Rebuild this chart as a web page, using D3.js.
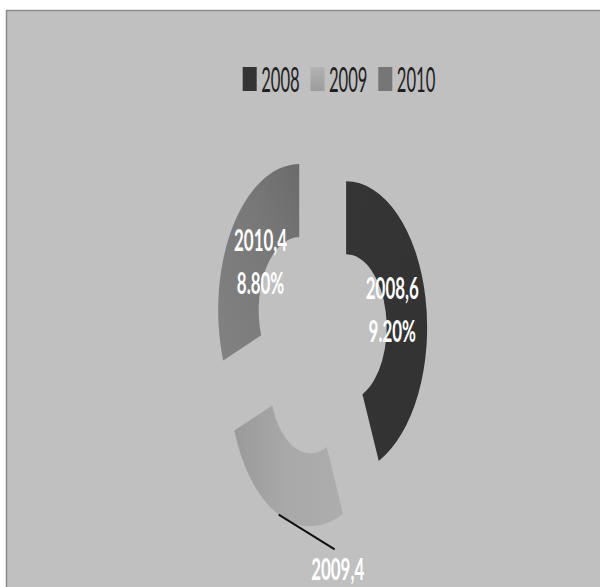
<!DOCTYPE html>
<html>
<head>
<meta charset="utf-8">
<script src="https://cdn.jsdelivr.net/npm/d3@7"></script>
<style>
  html, body { margin: 0; padding: 0; background: #ffffff; }
  svg { display: block; }
</style>
</head>
<body>
<svg id="chart" width="600" height="587"></svg>
<script>
// ---- data ----
const categories = ["2008", "2009", "2010"];
// share of the ring taken by each slice
const sliceValues = [43.4, 26.0, 30.6];
// data label texts as printed on the chart
const labelNames = ["2008,6", "2009,4", "2010,4"];
const labelPercents = ["9.20%", "", "8.80%"];
const labelOutside = [false, true, false];

// ---- layout / style ----
const W = 600, H = 587;
const sx = 0.555;            // horizontal squash of the picture
const cx = 320.6, cy = 337;  // ring centre
const outerR = 146, innerR = 73;
const explodeDist = 47;
const colors = ["url(#g2008)", "url(#g2009)", "url(#g2010)"];
const swatchColors = ["#343434", "url(#s2009)", "#767676"];

const svg = d3.select("#chart");

// gradients
const defs = svg.append("defs");
function lin(id, x1, y1, x2, y2, stops) {
  const g = defs.append("linearGradient").attr("id", id)
    .attr("x1", x1).attr("y1", y1).attr("x2", x2).attr("y2", y2);
  stops.forEach(s => g.append("stop").attr("offset", s[0]).attr("stop-color", s[1]));
}
lin("g2008", "0", "0", "1", "1", [["0", "#353535"], ["1", "#323232"]]);
lin("g2009", "0", "0", "1", "0", [["0", "#9a9a9a"], ["0.5", "#a9a9a9"], ["1", "#adadad"]]);
lin("g2010", "0", "1", "1", "0", [["0", "#828282"], ["0.6", "#787878"], ["1", "#6b6b6b"]]);
lin("s2009", "0", "0", "0", "1", [["0", "#b2b2b2"], ["1", "#9c9c9c"]]);

// chart area background with border
svg.append("rect").attr("x", 6.5).attr("y", 10.5).attr("width", W).attr("height", H)
  .attr("fill", "#c0c0c0").attr("stroke", "#8a8a8a").attr("stroke-width", 1.5);

// ---- legend ----
const legendX = d3.scalePoint().domain(categories).range([242.7, 378.3]);
const legend = svg.append("g");
const li = legend.selectAll("g.item").data(categories).join("g")
  .attr("class", "item")
  .attr("transform", d => `translate(${legendX(d)},0)`);
li.append("rect").attr("x", 0).attr("y", 67).attr("width", 14).attr("height", 24)
  .attr("fill", (d, i) => swatchColors[i]);
li.append("text")
  .attr("transform", "translate(18.5,91.5) scale(0.478,1)")
  .attr("font-family", "Lato, 'Open Sans', sans-serif")
  .attr("font-size", 34.7)
  .attr("fill", "#1e1e1e")
  .text(d => d);

// ---- exploded doughnut ----
const pie = d3.pie().sort(null).value(d => d).startAngle(0).endAngle(2 * Math.PI);
const arcs = pie(sliceValues);
const arc = d3.arc().innerRadius(innerR).outerRadius(outerR);

const slices = svg.append("g").selectAll("g.slice").data(arcs).join("g")
  .attr("class", "slice")
  .attr("transform", d => {
    const m = (d.startAngle + d.endAngle) / 2;
    const ox = sx * explodeDist * Math.sin(m);
    const oy = -explodeDist * Math.cos(m);
    return `translate(${cx + ox},${cy + oy}) scale(${sx},1)`;
  });
slices.append("path").attr("d", arc).attr("fill", (d, i) => colors[i]);

// inside labels
const labelR = 85, lineGap = 43, fs = 30.5;
slices.each(function (d, i) {
  const g = d3.select(this);
  const m = (d.startAngle + d.endAngle) / 2;
  if (!labelOutside[i]) {
    const lx = labelR * Math.sin(m), ly = -labelR * Math.cos(m);
    const lines = [labelNames[i], labelPercents[i]].filter(t => t);
    const y0 = ly - ((lines.length - 1) * lineGap) / 2 + 11;
    lines.forEach((t, k) => {
      g.append("text")
        .attr("x", lx).attr("y", y0 + k * lineGap)
        .attr("text-anchor", "middle")
        .attr("font-family", "Lato, 'Open Sans', sans-serif")
        .attr("font-weight", "bold")
        .attr("font-size", fs)
        .attr("fill", "#ffffff")
        .text(t);
    });
  }
});

// outside label with leader line (screen coordinates)
arcs.forEach((d, i) => {
  if (!labelOutside[i]) return;
  const m = (d.startAngle + d.endAngle) / 2;
  const scx = cx + sx * explodeDist * Math.sin(m);
  const scy = cy - explodeDist * Math.cos(m);
  const px = scx + sx * outerR * Math.sin(m);
  const py = scy - outerR * Math.cos(m);
  const ex = px + 56, ey = py + 34.7;
  svg.append("line").attr("x1", px).attr("y1", py).attr("x2", ex).attr("y2", ey)
    .attr("stroke", "#111").attr("stroke-width", 2);
  svg.append("text")
    .attr("transform", `translate(${ex + 3},${ey + 31}) scale(${sx},1)`)
    .attr("text-anchor", "middle")
    .attr("font-family", "Lato, 'Open Sans', sans-serif")
    .attr("font-weight", "bold")
    .attr("font-size", fs)
    .attr("fill", "#ffffff")
    .text(labelNames[i]);
});
</script>
</body>
</html>
